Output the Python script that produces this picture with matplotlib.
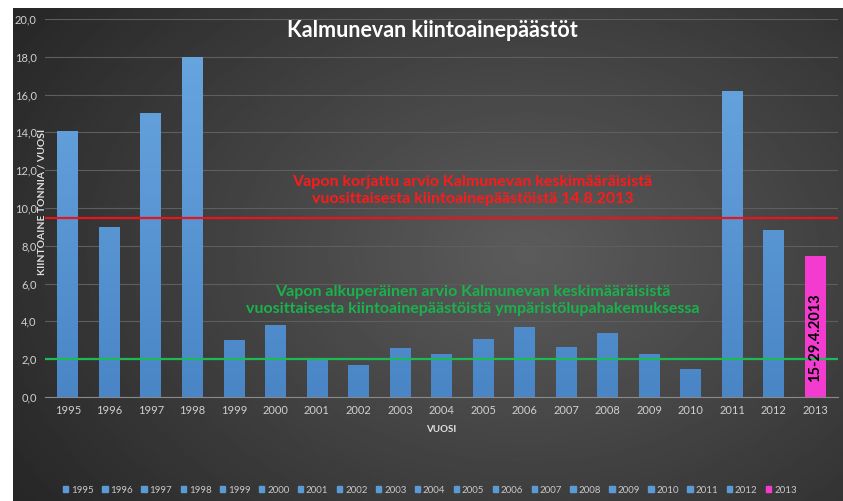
import numpy as np
import matplotlib.pyplot as plt
from matplotlib.patches import Rectangle
from matplotlib.colors import LinearSegmentedColormap

plt.rcParams['font.family'] = ['Lato', 'DejaVu Sans']

# data
years = ['1995', '1996', '1997', '1998', '1999', '2000', '2001', '2002', '2003', '2004',
         '2005', '2006', '2007', '2008', '2009', '2010', '2011', '2012', '2013']
values = [14.1, 9.0, 15.0, 18.0, 3.0, 3.8, 2.0, 1.7, 2.6, 2.3,
          3.05, 3.7, 2.65, 3.4, 2.3, 1.5, 16.2, 8.85, 7.45]
y_ticks = [0, 2, 4, 6, 8, 10, 12, 14, 16, 18, 20]
y_tick_labels = ['0,0', '2,0', '4,0', '6,0', '8,0', '10,0', '12,0', '14,0', '16,0', '18,0', '20,0']
corrected_estimate = 9.47
original_estimate = 2.0

blue = '#5b9bd5'
magenta = '#f43bd0'
bar_colors = [blue] * (len(years) - 1) + [magenta]

fig = plt.figure(figsize=(8.43, 5.01), dpi=100)
fig.patch.set_facecolor('white')

# dark gradient background
bg = fig.add_axes([13 / 843, 0, 1 - 13 / 843, 1 - 8 / 501])
bg.set_axis_off()
gx, gy = np.meshgrid(np.linspace(0, 1, 400), np.linspace(0, 1, 240))
d = np.sqrt(((gx - 0.62) / 0.75) ** 2 + ((gy - 0.5) / 0.9) ** 2)
shade = np.clip(0.36 - 0.21 * d, 0.15, 0.4)
bg.imshow(shade, cmap='gray', vmin=0, vmax=1, aspect='auto', extent=[0, 1, 0, 1], origin='lower')

ax = fig.add_axes([45 / 843, 1 - 397 / 501, (838 - 45) / 843, (397 - 19) / 501])
ax.set_facecolor('none')
x = np.arange(len(years))
bars = ax.bar(x, values, width=0.5, color=bar_colors, zorder=3)

ax.set_ylim(0, 20)
ax.set_xlim(-0.55, len(years) - 0.45)

# light-to-dark fill on the blue bars, like the Excel style
bar_cmap = LinearSegmentedColormap.from_list('barfill', ['#4a86c6', '#6aa8e2'])
grad = np.linspace(0, 1, 100).reshape(-1, 1)
for b, c in zip(bars, bar_colors):
    if c != blue:
        continue
    im = ax.imshow(grad, cmap=bar_cmap, aspect='auto', origin='lower', zorder=3.1,
                   extent=[b.get_x(), b.get_x() + b.get_width(), 0, 20])
    im.set_clip_path(b)

ax.axhline(corrected_estimate, color='#e8151b', lw=1.6, zorder=4)
ax.axhline(original_estimate, color='#1db954', lw=1.6, zorder=4)

ax.set_ylim(0, 20)
ax.set_xlim(-0.55, len(years) - 0.45)
ax.set_yticks(y_ticks)
ax.set_yticklabels(y_tick_labels)
ax.set_xticks(x)
ax.set_xticklabels(years)
ax.tick_params(colors='#d0d0d0', labelsize=8, length=0)
ax.tick_params(axis='x', pad=6)
ax.tick_params(axis='y', pad=6)
ax.yaxis.grid(True, color='#5e5e5e', lw=0.8, zorder=0)
for s in ['top', 'right', 'left']:
    ax.spines[s].set_visible(False)
ax.spines['bottom'].set_color('#8a8a8a')

ax.set_xlabel('VUOSI', color='#e0e0e0', fontsize=7, fontweight='bold', labelpad=6)
fig.text(42 / 843, 1 - 202 / 501, 'KIINTOAINE TONNIA / VUOSI', color='#e0e0e0', fontsize=7.5,
         fontweight='bold', rotation=90, ha='center', va='center')

fig.text(0.513, 0.94, 'Kalmunevan kiintoainepäästöt', color='white', fontsize=15.5,
         fontweight='bold', ha='center', va='center')

ax.text(9.75, 10.93, 'Vapon korjattu arvio Kalmunevan keskimääräisistä\n'
        'vuosittaisesta kiintoainepäästöistä 14.8.2013',
        color='#ff1a1a', fontsize=11.5, fontweight='bold', ha='center', va='center',
        linespacing=1.25, zorder=5)
ax.text(9.75, 5.1, 'Vapon alkuperäinen arvio Kalmunevan keskimääräisistä\n'
        'vuosittaisesta kiintoainepäästöistä ympäristölupahakemuksessa',
        color='#19b24b', fontsize=11.5, fontweight='bold', ha='center', va='center',
        linespacing=1.25, zorder=5)
ax.text(x[-1], 3.15, '15-29.4.2013', color='black', fontsize=10.5,
        fontweight='bold', rotation=90, ha='center', va='center', zorder=5)

handles = [Rectangle((0, 0), 1, 1, color=c) for c in bar_colors]
fig.legend(handles, years, loc='lower center', bbox_to_anchor=(0.51, -0.005), ncol=len(years),
           frameon=False, fontsize=7, labelcolor='#c8c8c8', handlelength=0.55, handleheight=0.55,
           handletextpad=0.3, columnspacing=0.85)

fig.savefig('out.png', dpi=100)
